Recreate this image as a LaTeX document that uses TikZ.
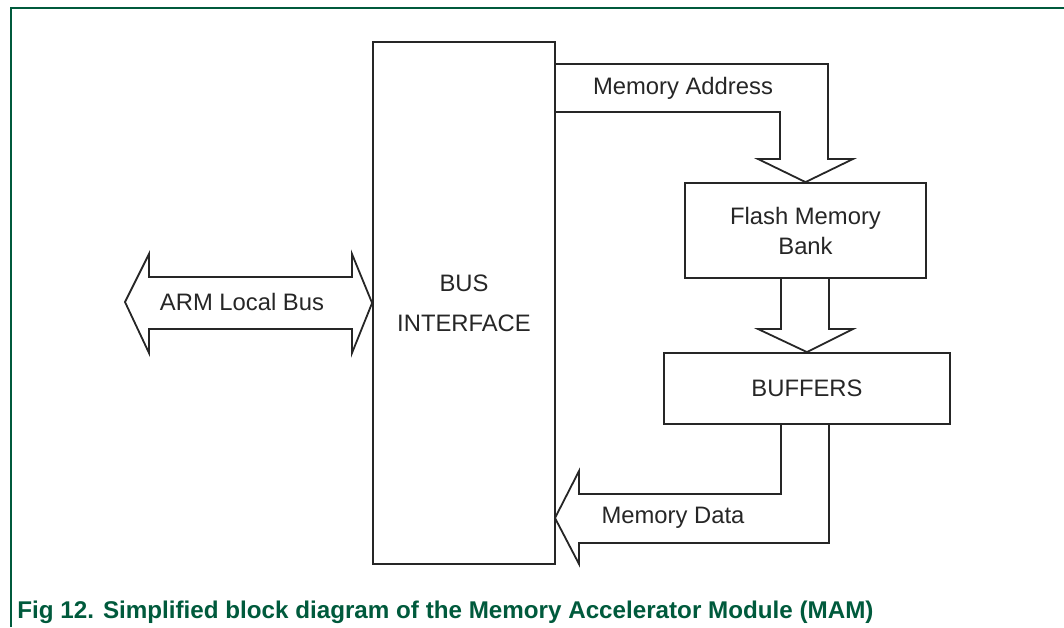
\documentclass[tikz,border=0pt]{standalone}
\usepackage{fontspec}
\setmainfont{Liberation Sans}
\usetikzlibrary{positioning}
\definecolor{figgreen}{RGB}{0,90,60}

\begin{document}
\begin{tikzpicture}[x=0.5pt,y=-0.5pt,
  box/.style={draw=black!85,line width=0.9pt,inner sep=0pt,align=center,
    text=black!85,font=\fontsize{11.9}{15}\selectfont},
  fat/.style={draw=black!85,line width=0.9pt,line join=miter},
  lbl/.style={text=black!85,font=\fontsize{11.9}{15}\selectfont}]
\useasboundingbox (0,0) rectangle (1064,627);

% frame
\draw[figgreen,line width=1pt] (11,627) -- (11,8) -- (1064,8);

% blocks
\node[box,minimum width=91pt,minimum height=261pt] (bus) at (464,303) {BUS\\[5pt]INTERFACE};
\node[box,minimum width=120.5pt,minimum height=47.5pt] (flash) at (805.5,230.5) {Flash Memory\\Bank};
\node[box,minimum width=143pt,minimum height=35.5pt] (buffers) at (807,388.5) {BUFFERS};

% ARM local bus
\draw[fat] (bus.west) -- (352,254) -- (352,277) -- (149,277) -- (149,254) -- (125,302)
  -- (149,353) -- (149,329) -- (352,329) -- (352,353) -- cycle;
\node[lbl] (armbus) at (242,302) {ARM Local Bus};

% memory address
\draw[fat] (555,64) -- (828,64) -- (828,159) -- (853,159) -- (flash.north)
  -- (758,159) -- (780,159) -- (780,112) -- (555,112);
\node[lbl] (addr) at (683,88) {Memory Address};

% flash to buffers
\draw[fat] (781,278) -- (781,329) -- (758,329) -- (buffers.north) -- (853,329)
  -- (829,329) -- (829,278);

% memory data
\draw[fat] (781,424) -- (781,494) -- (579,494) -- (579,471) -- (555,518) -- (579,564)
  -- (579,543) -- (829,543) -- (829,424);
\node[lbl] (data) at (673,518) {Memory Data};

% caption
\node[anchor=base west,inner sep=0pt,text=figgreen,font=\fontsize{12.1}{14}\selectfont\bfseries]
  (caption) at (17,618) {Fig 12. Simplified block diagram of the Memory Accelerator Module (MAM)};

\end{tikzpicture}
\end{document}
